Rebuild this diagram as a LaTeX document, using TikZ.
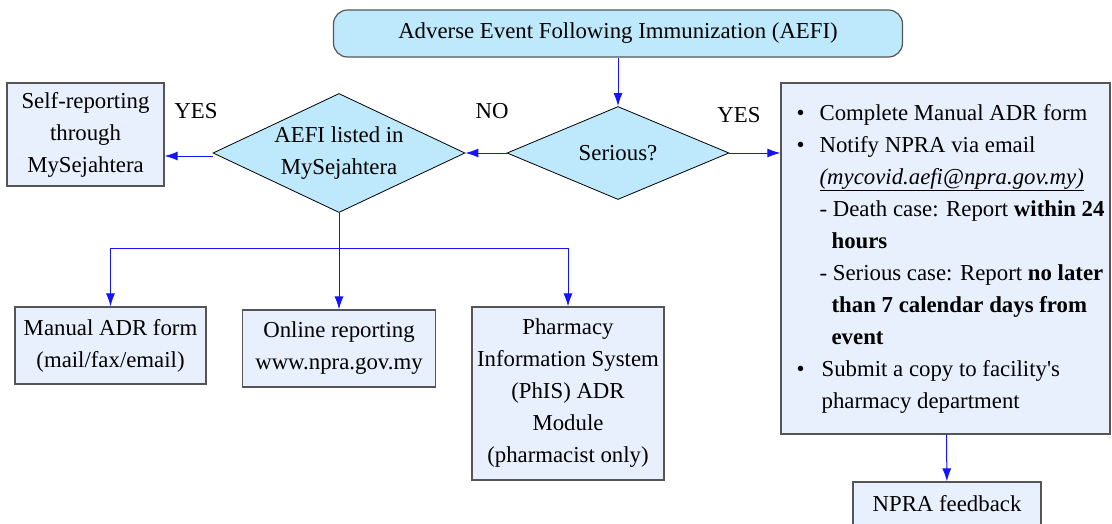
\documentclass[tikz,border=0pt]{standalone}
\usepackage{fontspec}
\setmainfont{Liberation Serif}
\usetikzlibrary{shapes.geometric,arrows.meta}
\definecolor{skyfill}{RGB}{190,233,252}
\definecolor{boxfill}{RGB}{232,240,254}
\definecolor{boxline}{RGB}{85,85,85}
\definecolor{flowblue}{RGB}{20,20,250}
\begin{document}
\begin{tikzpicture}[x=1pt,y=-1pt,font=\fontsize{22.8}{32}\selectfont,
    flow/.style={draw=flowblue,line width=1pt,-{Latex[length=13pt,width=9pt]}}]
  \useasboundingbox (0,0) rectangle (1112,523);

  \begin{scope}[every node/.style={draw=boxline,fill=boxfill,line width=1.2pt,align=center,inner sep=0pt}]
    \node[rounded corners=14pt,fill=skyfill,minimum width=569pt,minimum height=47pt] (aefi) at (618,33.5) {Adverse Event Following Immunization (AEFI)};
    \node[minimum width=157pt,minimum height=103pt] (self) at (85.5,134.5) {Self-reporting\\through\\MySejahtera};
    \node[minimum width=191pt,minimum height=77pt] (manual) at (110.5,345.5) {Manual ADR form\\(mail/fax/email)};
    \node[minimum width=193pt,minimum height=77pt] (online) at (339,348.5) {Online reporting\\www.npra.gov.my};
    \node[minimum width=192pt,minimum height=173pt] (phis) at (568,393.5) {Pharmacy\\Information System\\(PhIS) ADR\\Module\\(pharmacist only)};
    \node[minimum width=329pt,minimum height=351pt] (report) at (945.5,258.5) {};
    \node[minimum width=188pt,minimum height=44pt] (feedback) at (947,504) {NPRA feedback};
  \end{scope}

  \begin{scope}[every node/.style={diamond,draw=black,fill=skyfill,line width=0.8pt,aspect=2,inner sep=0pt,align=center}]
    \node[minimum width=252pt,minimum height=119pt] (listed) at (339,153) {AEFI listed in\\MySejahtera};
    \node[minimum width=222pt,minimum height=93pt] (serious) at (618,153) {Serious?};
  \end{scope}

  % answers
  \node (yesleft) at (196,111) {YES};
  \node (no) at (492,111) {NO};
  \node (yesright) at (739,115) {YES};

  % what to do with a serious case
  \node[anchor=west,align=left,inner sep=0pt] (reporttext) at ([xshift=16pt]report.west) {%
    \makebox[23pt][l]{\textbullet}Complete Manual ADR form\\
    \makebox[23pt][l]{\textbullet}Notify NPRA via email\\
    \hspace*{23pt}\underline{\textit{(mycovid.aefi@npra.gov.my)}}\\
    \hspace*{23pt}- Death case: Report \textbf{within 24}\\
    \hspace*{35pt}\textbf{hours}\\
    \hspace*{23pt}- Serious case: Report \textbf{no later}\\
    \hspace*{35pt}\textbf{than 7 calendar days from}\\
    \hspace*{35pt}\textbf{event}\\
    \makebox[25pt][l]{\textbullet}Submit a copy to facility\textquotesingle s\\
    \hspace*{25pt}pharmacy department};

  \begin{scope}[every edge/.style={flow}]
    \path (aefi) edge (serious);
    \path (serious) edge (listed);
    \path ([yshift=-3pt]listed.west) edge ([yshift=-3pt]listed.west -| self.east);
    \path (serious.east) edge (serious.east -| report.west);
    \path (report) edge (feedback);
  \end{scope}

  \coordinate (split) at (339,248);
  \draw[flow,-] (listed.south) -- (split);
  \draw[flow] (split) -| (manual.north);
  \draw[flow] (split) -- (online.north);
  \draw[flow] (split) -| (phis.north);

\end{tikzpicture}
\end{document}
